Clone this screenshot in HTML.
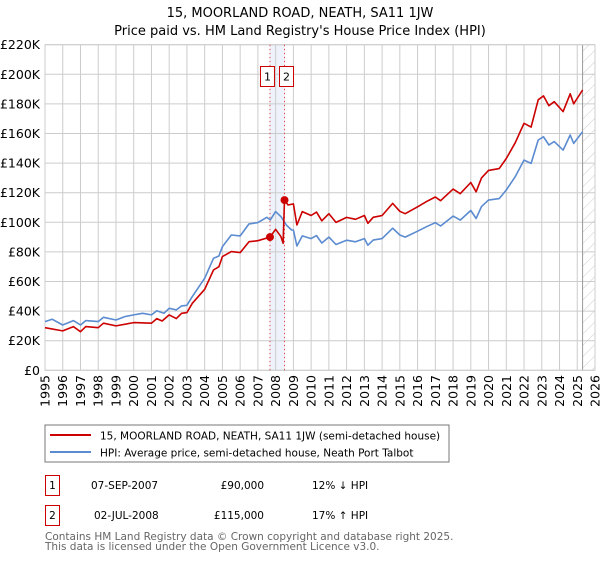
<!DOCTYPE html>
<html><head><meta charset="utf-8"><style>
body{margin:0;background:#fff;font-family:"DejaVu Sans","Liberation Sans",sans-serif;}
svg text{font-family:"DejaVu Sans","Liberation Sans",sans-serif;}
</style></head><body>
<svg id="c" width="600" height="560" xmlns="http://www.w3.org/2000/svg">
<defs><pattern id="hatch" width="8" height="8" patternUnits="userSpaceOnUse" patternTransform="rotate(45)"><line x1="0" y1="0" x2="0" y2="8" stroke="#ccc" stroke-width="1"/></pattern></defs>
<text x="300" y="17" text-anchor="middle" font-size="13" fill="#000">15, MOORLAND ROAD, NEATH, SA11 1JW</text>
<text x="300" y="35" text-anchor="middle" font-size="13" fill="#000">Price paid vs. HM Land Registry's House Price Index (HPI)</text>
<g id="grid"></g><g id="marks"></g><g id="axes"></g>
<g>
<rect x="45" y="425" width="404" height="37" fill="#fff" stroke="#777"/>
<line x1="50" y1="435" x2="91" y2="435" stroke="#cc0000" stroke-width="2"/>
<text x="100" y="439.5" font-size="10.5">15, MOORLAND ROAD, NEATH, SA11 1JW (semi-detached house)</text>
<line x1="50" y1="452" x2="91" y2="452" stroke="#5b8bd0" stroke-width="2"/>
<text x="100" y="456.5" font-size="10.5">HPI: Average price, semi-detached house, Neath Port Talbot</text>
</g>
<g font-size="10.5">
<rect x="45.5" y="475.5" width="14" height="20" fill="#fff" stroke="#cc0000"/>
<text x="52.5" y="489" text-anchor="middle">1</text>
<text x="91" y="489">07-SEP-2007</text>
<text x="264" y="489" text-anchor="end">£90,000</text>
<text x="312" y="489">12% ↓ HPI</text>
<rect x="45.5" y="505.5" width="14" height="20" fill="#fff" stroke="#cc0000"/>
<text x="52.5" y="519" text-anchor="middle">2</text>
<text x="94" y="519">02-JUL-2008</text>
<text x="264" y="519" text-anchor="end">£115,000</text>
<text x="312" y="519">17% ↑ HPI</text>
</g>
<text x="45" y="540" font-size="10.5" fill="#666">Contains HM Land Registry data © Crown copyright and database right 2025.</text>
<text x="45" y="550" font-size="10.5" fill="#666">This data is licensed under the Open Government Licence v3.0.</text>
</svg>
<script>
const hpiDates=[1995,1995.4,1996,1996.6,1997,1997.3,1998,1998.3,1999,1999.5,2000,2000.5,2001,2001.3,2001.7,2002,2002.4,2002.7,2003,2003.3,2004,2004.5,2004.8,2005,2005.5,2006,2006.5,2007,2007.5,2007.7,2008,2008.3,2008.6,2008.9,2009,2009.2,2009.5,2010,2010.3,2010.6,2011,2011.4,2012,2012.5,2013,2013.2,2013.5,2014,2014.6,2015,2015.3,2016,2016.5,2017,2017.3,2018,2018.4,2019,2019.3,2019.6,2020,2020.6,2021,2021.5,2022,2022.4,2022.8,2023.1,2023.4,2023.7,2024.2,2024.6,2024.8,2025.3];
const hpiValues=[32.9,34.5,30.6,33.6,30.6,33.6,32.9,35.8,34,36.3,37.4,38.5,37.4,40.3,38.5,41.9,40.8,43.5,43.9,49.8,62.2,75.7,77.2,83.5,91.4,90.8,98.9,99.8,103.4,101.6,107.2,103.8,98.2,94.8,94.8,84,90.8,89,91,86,90,85,87.9,86.8,89,84.5,88,89,96,91.4,90,94,97,99.7,97.5,104.2,101.5,108,102.6,110.6,115,116,121.8,130.8,142,139.8,155.6,157.8,152.2,154.5,148.8,159,153.3,161.2];
const propDates=[1995,1996,1996.6,1997,1997.3,1998,1998.3,1999,2000,2001,2001.3,2001.6,2002,2002.4,2002.7,2003,2003.3,2004,2004.5,2004.8,2005,2005.5,2006,2006.5,2007,2007.68,2008,2008.3,2008.42,2008.5,2008.7,2009,2009.2,2009.5,2010,2010.3,2010.6,2011,2011.4,2012,2012.5,2013,2013.2,2013.5,2014,2014.6,2015,2015.3,2016,2016.5,2017,2017.3,2018,2018.4,2019,2019.3,2019.6,2020,2020.6,2021,2021.5,2022,2022.4,2022.8,2023.1,2023.4,2023.7,2024.2,2024.6,2024.8,2025.3];
const propValues=[28.8,26.6,29.5,26.1,29.5,28.8,31.8,30,32.2,31.8,34.9,33.3,37.4,34.9,38.5,39,45.3,54.7,67.8,70,76.8,80.2,79.5,86.9,87.6,90,95.3,90.3,85.8,115,111.7,112.4,98.2,107.2,104.6,106.9,101,105.8,99.9,103.3,102,104.6,99.3,103.4,104.6,112.8,107.4,105.8,110.5,114,117.1,114.6,122.4,119.3,126.9,120.6,130,135.1,136.3,143.1,153.7,166.9,164.3,182.8,185.4,178.8,181.5,174.8,186.8,180.1,189.4];
const saleDates=[2007.68,2008.5];
const saleValues=[90,115];
const saleLabels=["1","2"];
const yTicks=[0,20,40,60,80,100,120,140,160,180,200,220];
const yTickLabels=["£0","£20K","£40K","£60K","£80K","£100K","£120K","£140K","£160K","£180K","£200K","£220K"];
const xTicks=[1995,1996,1997,1998,1999,2000,2001,2002,2003,2004,2005,2006,2007,2008,2009,2010,2011,2012,2013,2014,2015,2016,2017,2018,2019,2020,2021,2022,2023,2024,2025,2026];
const dataEnd=2025.3;

const NS="http://www.w3.org/2000/svg";
const L=45,R=595,T=44.7,B=370.3;
const X=y=>L+(y-1995)*(R-L)/31;
const Y=v=>B-v*(B-T)/220;
function mk(tag,attrs,parent){const e=document.createElementNS(NS,tag);for(const k in attrs)e.setAttribute(k,attrs[k]);document.getElementById(parent).appendChild(e);return e;}

let e=mk('rect',{x:X(saleDates[0]),y:T,width:X(saleDates[1])-X(saleDates[0]),height:B-T,fill:'#eef3fb'},'grid');


xTicks.forEach(t=>{const g=mk('line',{x1:X(t),x2:X(t),y1:T,y2:B,stroke:'#ccc','stroke-width':1},'grid');

});
yTicks.forEach(t=>{const g=mk('line',{x1:L,x2:R,y1:Y(t),y2:Y(t),stroke:'#ccc','stroke-width':1},'grid');

});
e=mk('rect',{x:X(dataEnd),y:T,width:R-X(dataEnd),height:B-T,fill:'url(#hatch)'},'grid');


e=mk('line',{x1:X(dataEnd),x2:X(dataEnd),y1:T,y2:B,stroke:'#999','stroke-width':1},'grid');


e=mk('rect',{x:L,y:T,width:R-L,height:B-T,fill:'none',stroke:'#ccc'},'grid');



saleDates.forEach((d,i)=>{const l=mk('line',{x1:X(d),x2:X(d),y1:T,y2:B,stroke:'#e05050','stroke-width':1,'stroke-dasharray':'1.5,2.5'},'marks');

});

function path(ds,vs){return ds.map((d,i)=>(i?'L':'M')+X(d).toFixed(1)+','+Y(vs[i]).toFixed(1)).join('');}
e=mk('path',{d:path(hpiDates,hpiValues),fill:'none',stroke:'#5b8bd0','stroke-width':1.6,'stroke-linejoin':'round'},'marks');


e=mk('path',{d:path(propDates,propValues),fill:'none',stroke:'#cc0000','stroke-width':1.6,'stroke-linejoin':'round'},'marks');



saleDates.forEach((d,i)=>{
const c=mk('circle',{cx:X(d),cy:Y(saleValues[i]),r:4,fill:'#cc0000'},'marks');


const bx=i===0?X(d)-9.5:X(d)-5;
const r=mk('rect',{x:bx,y:66.5,width:14,height:20,fill:'#fff',stroke:'#cc0000'},'marks');


const t=mk('text',{x:bx+7,y:80.5,'text-anchor':'middle','font-size':11},'marks');t.textContent=saleLabels[i];


});

yTicks.forEach((t,i)=>{const tx=mk('text',{x:40,y:Y(t)+4.5,'text-anchor':'end','font-size':12.5},'axes');tx.textContent=yTickLabels[i];

});
xTicks.forEach(t=>{const tx=mk('text',{x:0,y:0,'text-anchor':'end','font-size':12.5,transform:`translate(${X(t)+4.5},375) rotate(-90)`},'axes');tx.textContent=t;

});
</script>
</body></html>
